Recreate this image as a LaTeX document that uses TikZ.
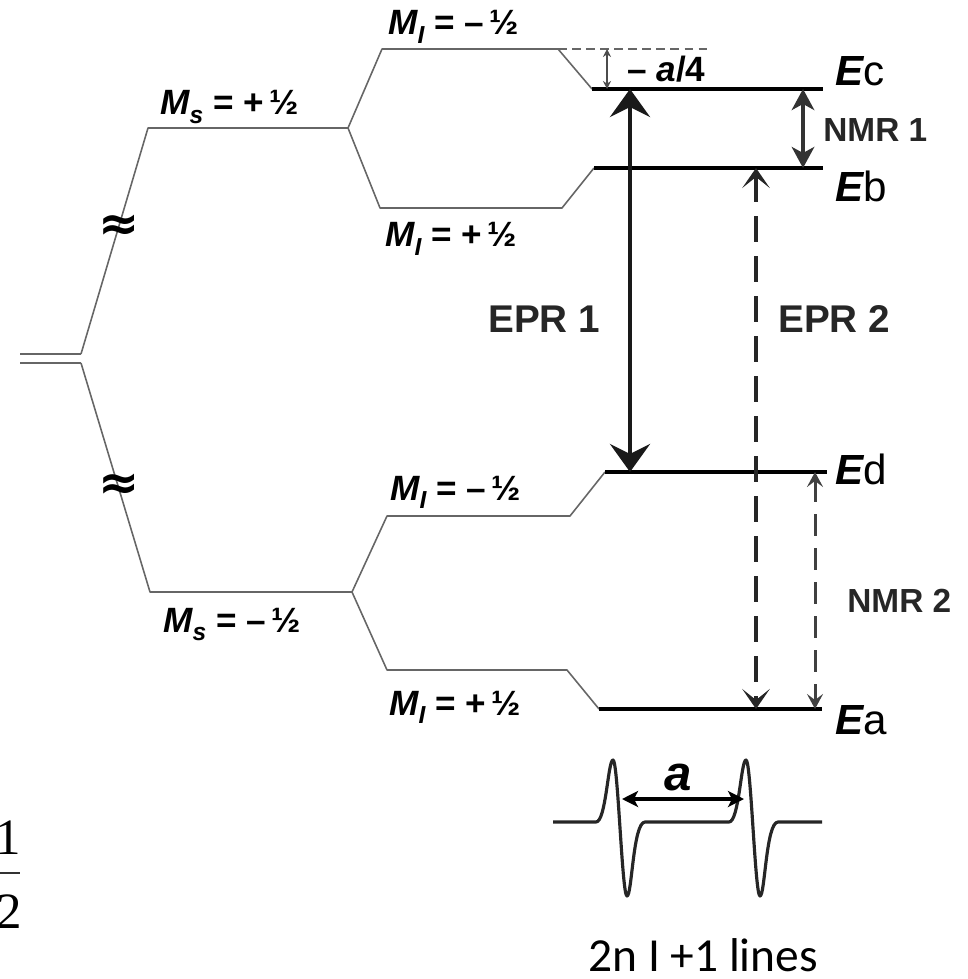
\documentclass[tikz,border=0pt]{standalone}
\usepackage{fontspec}
\setmainfont{Liberation Sans}
\newfontfamily\calibrifont{Carlito}
\newfontfamily\timesfont{Liberation Serif}
\newfontfamily\symfont{DejaVu Sans}
\usetikzlibrary{arrows.meta}
\newcommand\mlab[2]{{\itshape M}\raisebox{-0.45ex}{\fontsize{14}{14}\selectfont\itshape #1}\ =\ #2\,½}
\newcommand\elab[1]{{\bfseries\itshape E}#1}
\tikzset{
  thinlvl/.style={draw=black!60, line width=0.9pt, line join=round},
  thicklvl/.style={draw=black, line width=2.3pt},
  lab/.style={inner sep=0pt, anchor=base west, font=\bfseries\fontsize{20}{22}\selectfont},
  biglab/.style={inner sep=0pt, anchor=base west, font=\bfseries\fontsize{22}{24}\selectfont},
  nmrlab/.style={inner sep=0pt, anchor=base west, font=\bfseries\fontsize{19}{22}\selectfont, text=black!85},
  elabel/.style={inner sep=0pt, anchor=base west, font=\fontsize{24}{26}\selectfont},
  approx/.style={inner sep=0pt, font=\symfont\bfseries\fontsize{28}{30}\selectfont},
  epra/.style={line width=2.8pt, black!90, {Stealth[length=0.56cm,width=0.8cm,inset=0.2cm]}-{Stealth[length=0.56cm,width=0.8cm,inset=0.2cm]}},
  eprb/.style={line width=2.3pt, black!85, dash pattern=on 0.52cm off 0.28cm, {Stealth[length=0.4cm,width=0.55cm,inset=0.22cm]}-{Stealth[length=0.4cm,width=0.55cm,inset=0.22cm]}},
  nmra/.style={line width=2.2pt, black!80, {Stealth[length=0.42cm,width=0.45cm,inset=0.12cm]}-{Stealth[length=0.42cm,width=0.45cm,inset=0.12cm]}},
  nmrb/.style={line width=1.7pt, black!75, dash pattern=on 0.44cm off 0.24cm, {Stealth[length=0.3cm,width=0.32cm,inset=0.12cm]}-{Stealth[length=0.3cm,width=0.32cm,inset=0.12cm]}},
  smallarr/.style={line width=0.7pt, black!70, {Stealth[length=0.16cm,width=0.16cm]}-{Stealth[length=0.16cm,width=0.16cm]}},
  spec/.style={line width=1.8pt, black!85, line join=round},
  aarr/.style={line width=2pt, black, {Stealth[length=0.32cm,width=0.32cm,inset=0.08cm]}-{Stealth[length=0.32cm,width=0.32cm,inset=0.08cm]}}
}
\begin{document}
\begin{tikzpicture}[x=0.02cm,y=-0.02cm]
\useasboundingbox (0,0) rectangle (967,979);

% ---- key points
\coordinate (up) at (148,128);
\coordinate (upr) at (348,128);
\coordinate (lo) at (150,592);
\coordinate (lor) at (352,592);

% left double line
\draw[thinlvl] (20,354) -- (81,354);
\draw[thinlvl] (20,363) -- (81,363);
% electron spin branches
\draw[thinlvl] (81,354) -- (up) -- (upr);
\draw[thinlvl] (81,363) -- (lo) -- (lor);
% nuclear spin branches (upper)
\draw[thinlvl] (upr) -- (382,49) -- (558,49) -- (592,89);
\draw[thinlvl] (upr) -- (380,208) -- (562,208) -- (594,168);
% nuclear spin branches (lower)
\draw[thinlvl] (lor) -- (387,516) -- (570,516) -- (605,472);
\draw[thinlvl] (lor) -- (387,670) -- (567,670) -- (599,709);
% dashed reference
\draw[thinlvl, dash pattern=on 5pt off 3pt] (558,49) -- (708,49);

% thick energy levels
\coordinate (ecL) at (592,89);  \coordinate (ecR) at (823,89);
\coordinate (ebL) at (594,168); \coordinate (ebR) at (823,168);
\coordinate (edL) at (605,472); \coordinate (edR) at (827,472);
\coordinate (eaL) at (599,709); \coordinate (eaR) at (822,709);
\draw[thicklvl] (ecL) -- (ecR);
\draw[thicklvl] (ebL) -- (ebR);
\draw[thicklvl] (edL) -- (edR);
\draw[thicklvl] (eaL) -- (eaR);

% approx signs
\node[approx] (ap1) at (119,228) {≈};
\node[approx] (ap2) at (119,487) {≈};

% labels
\node[lab] (ms1) at (160,115) {\mlab{s}{+}};
\node[lab] (mi1) at (388,35) {\mlab{I}{–}};
\node[lab] (mi2) at (385,247) {\mlab{I}{+}};
\node[lab] (mi3) at (390,500) {\mlab{I}{–}};
\node[lab] (ms2) at (163,632) {\mlab{s}{–}};
\node[lab] (mi4) at (389,715) {\mlab{I}{+}};
\node[lab] (a4) at (627,82) {– {\itshape a}/4};

\node[elabel] (Ec) at (835,86) {\elab{c}};
\node[elabel] (Eb) at (835,202) {\elab{b}};
\node[elabel] (Ed) at (835,484) {\elab{d}};
\node[elabel] (Ea) at (835,734) {\elab{a}};

\node[biglab, text=black!85] (epr1) at (488,333) {EPR 1};
\node[biglab, text=black!85] (epr2) at (778,333) {EPR 2};
\node[nmrlab] (nmr1) at (823,142) {NMR 1};
\node[nmrlab] (nmr2) at (847,612) {NMR 2};

% transitions
\coordinate (e1t) at (630,89);  \coordinate (e1b) at (630,472);
\coordinate (e2t) at (756,168); \coordinate (e2b) at (756,709);
\coordinate (n1t) at (803,89);  \coordinate (n1b) at (803,168);
\coordinate (n2t) at (815,472); \coordinate (n2b) at (815,709);
\coordinate (qt) at (607,49);   \coordinate (qb) at (607,89);
\draw[epra] (e1t) -- (e1b);
\draw[eprb] (e2t) -- (e2b);
\draw[nmra] (n1t) -- (n1b);
\draw[nmrb] (n2t) -- (n2b);
\draw[smallarr] (qt) -- (qb);

% spectrum
\draw[spec] (553,822) -- (596,822) .. controls (606,822) and (608,760) .. (613,760)
  .. controls (618,760) and (622,896) .. (627,896)
  .. controls (632,896) and (633,822) .. (645,822) -- (729,822)
  .. controls (739,822) and (741,760) .. (746,760)
  .. controls (751,760) and (755,896) .. (760,896)
  .. controls (765,896) and (766,822) .. (778,822) -- (822,822);
\coordinate (al) at (622,799); \coordinate (ar) at (744,799);
\draw[aarr] (al) -- (ar);
\node[inner sep=0pt, anchor=base, font=\bfseries\itshape\fontsize{28}{30}\selectfont] (alab) at (678,790) {a};
\node[inner sep=0pt, anchor=base west, font=\calibrifont\fontsize{27}{30}\selectfont] (lines) at (588,971) {2n I +1 lines};

% cropped fraction at the left edge
\node[inner sep=0pt, font=\timesfont\fontsize{29}{30}\selectfont] (one) at (8,838) {1};
\node[inner sep=0pt, font=\timesfont\fontsize{29}{30}\selectfont] (two) at (9,912) {2};
\draw[line width=1.1pt, black!80] (-4,873) -- (20,873);
\end{tikzpicture}
\end{document}
